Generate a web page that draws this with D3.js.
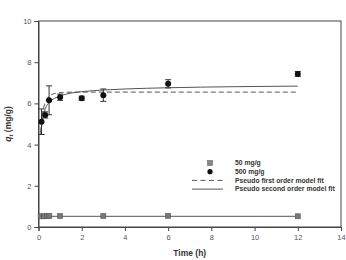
<!DOCTYPE html>
<html>
<head>
<meta charset="utf-8">
<script src="https://cdn.jsdelivr.net/npm/d3@7"></script>
<style>
  body { margin: 0; background: #fff; }
  text { font-family: "Liberation Sans", Arial, sans-serif; }
</style>
</head>
<body>
<div id="chart"></div>
<script>
// 50 mg/g series
const time50 = [0.1, 0.25, 0.4, 0.5, 1, 3, 6, 12];
const q50 = [0.52, 0.52, 0.53, 0.53, 0.53, 0.53, 0.54, 0.52];

// 500 mg/g series with error bars
const time500 = [0.14, 0.31, 0.49, 1, 2, 3, 6, 12];
const q500 = [5.11, 5.44, 6.15, 6.3, 6.25, 6.4, 6.95, 7.43];
const err500 = [0.62, 0.15, 0.7, 0.15, 0.1, 0.3, 0.2, 0.12];

// fit curves
const pfoTime = [0.1, 0.2, 0.3, 0.5, 0.75, 1, 2, 12];
const pfoQ = [4.6, 5.6, 6.0, 6.35, 6.48, 6.52, 6.55, 6.55];
const psoTime = [0.1, 0.2, 0.3, 0.5, 0.75, 1, 1.5, 2, 3, 4, 6, 9, 12];
const psoQ = [4.5, 5.3, 5.7, 6.05, 6.25, 6.36, 6.5, 6.57, 6.65, 6.7, 6.76, 6.81, 6.84];
const fit50Time = [0, 12];
const fit50Q = [0.52, 0.52];

const xTicks = [0, 2, 4, 6, 8, 10, 12, 14];
const yTicks = [0, 2, 4, 6, 8, 10];
const legendLabels = ["50 mg/g", "500 mg/g", "Pseudo first order model fit", "Pseudo second order model fit"];

const width = 346, height = 260;
const margin = {left: 38.5, right: 5, top: 21, bottom: 33};

const svg = d3.select("#chart").append("svg")
    .attr("width", width)
    .attr("height", height);

const x = d3.scaleLinear().domain([0, 14]).range([margin.left, width - margin.right]);
const y = d3.scaleLinear().domain([0, 10]).range([height - margin.bottom, margin.top]);

// frame
svg.append("rect")
    .attr("x", x(0)).attr("y", y(10))
    .attr("width", x(14) - x(0)).attr("height", y(0) - y(10))
    .attr("fill", "none").attr("stroke", "#444").attr("stroke-width", 1);

// axes
const xAxis = svg.append("g")
    .attr("transform", `translate(0,${y(0)})`)
    .call(d3.axisBottom(x).tickValues(xTicks).tickSize(4).tickPadding(4));
const yAxis = svg.append("g")
    .attr("transform", `translate(${x(0)},0)`)
    .call(d3.axisLeft(y).tickValues(yTicks).tickSize(4).tickPadding(3));
[xAxis, yAxis].forEach(g => {
  g.select(".domain").attr("stroke", "#444");
  g.selectAll(".tick line").attr("stroke", "#444");
  g.selectAll(".tick text").attr("fill", "#555").attr("font-size", 7.5);
});

// axis titles
svg.append("text")
    .attr("x", (x(0) + x(14)) / 2)
    .attr("y", 256)
    .attr("text-anchor", "middle")
    .attr("font-size", 8.5)
    .attr("font-weight", "bold")
    .attr("fill", "#333")
    .text("Time (h)");

const yTitle = svg.append("text")
    .attr("transform", `translate(11,${(y(0) + y(10)) / 2}) rotate(-90)`)
    .attr("text-anchor", "middle")
    .attr("font-size", 8.5)
    .attr("font-weight", "bold")
    .attr("fill", "#333");
yTitle.append("tspan").attr("font-style", "italic").text("q");
yTitle.append("tspan").attr("font-size", 6).attr("dy", 2).attr("font-style", "italic").text("t");
yTitle.append("tspan").attr("dy", -2).text(" (mg/g)");

const line = d3.line().x(d => x(d[0])).y(d => y(d[1]));

// 50 mg/g fit/connecting line
svg.append("path")
    .datum(fit50Time.map((t, i) => [t, fit50Q[i]]))
    .attr("d", line)
    .attr("fill", "none").attr("stroke", "#777").attr("stroke-width", 1.2);

// fits
svg.append("path")
    .datum(pfoTime.map((t, i) => [t, pfoQ[i]]))
    .attr("d", line.curve(d3.curveMonotoneX))
    .attr("fill", "none").attr("stroke", "#777").attr("stroke-width", 1.2)
    .attr("stroke-dasharray", "5,3");

svg.append("path")
    .datum(psoTime.map((t, i) => [t, psoQ[i]]))
    .attr("d", line.curve(d3.curveMonotoneX))
    .attr("fill", "none").attr("stroke", "#555").attr("stroke-width", 1);

// error bars for 500 mg/g
const eb = svg.append("g").attr("stroke", "#333").attr("stroke-width", 1);
time500.forEach((t, i) => {
  const cx = x(t);
  const lo = y(q500[i] - err500[i]), hi = y(q500[i] + err500[i]);
  eb.append("line").attr("x1", cx).attr("x2", cx).attr("y1", lo).attr("y2", hi);
  eb.append("line").attr("x1", cx - 3).attr("x2", cx + 3).attr("y1", lo).attr("y2", lo);
  eb.append("line").attr("x1", cx - 3).attr("x2", cx + 3).attr("y1", hi).attr("y2", hi);
});

// 50 mg/g squares
svg.append("g").selectAll("rect")
    .data(time50.map((t, i) => [t, q50[i]]))
    .join("rect")
    .attr("x", d => x(d[0]) - 2.5).attr("y", d => y(d[1]) - 2.5)
    .attr("width", 5).attr("height", 5)
    .attr("fill", "#777").attr("stroke", "#555").attr("stroke-width", 0.6);

// 500 mg/g circles
svg.append("g").selectAll("circle")
    .data(time500.map((t, i) => [t, q500[i]]))
    .join("circle")
    .attr("cx", d => x(d[0])).attr("cy", d => y(d[1]))
    .attr("r", 3)
    .attr("fill", "#111");

// legend
const legend = svg.append("g").attr("transform", "translate(0,163)");
const rowH = 8.7;
legend.append("rect").attr("x", 207.5).attr("y", -2.5).attr("width", 5).attr("height", 5)
    .attr("fill", "#888").attr("stroke", "#666").attr("stroke-width", 0.6);
legend.append("circle").attr("cx", 210).attr("cy", rowH).attr("r", 2.6).attr("fill", "#111");
legend.append("line").attr("x1", 192).attr("x2", 223).attr("y1", rowH * 2).attr("y2", rowH * 2)
    .attr("stroke", "#555").attr("stroke-width", 1).attr("stroke-dasharray", "5,3.5");
legend.append("line").attr("x1", 192).attr("x2", 223).attr("y1", rowH * 3).attr("y2", rowH * 3)
    .attr("stroke", "#555").attr("stroke-width", 1);
legend.selectAll("text.lg")
    .data(legendLabels)
    .join("text")
    .attr("class", "lg")
    .attr("x", 235)
    .attr("y", (d, i) => i * rowH)
    .attr("dy", "0.35em")
    .attr("font-size", 6.8)
    .attr("font-weight", "bold")
    .attr("fill", "#333")
    .text(d => d);
</script>
</body>
</html>
